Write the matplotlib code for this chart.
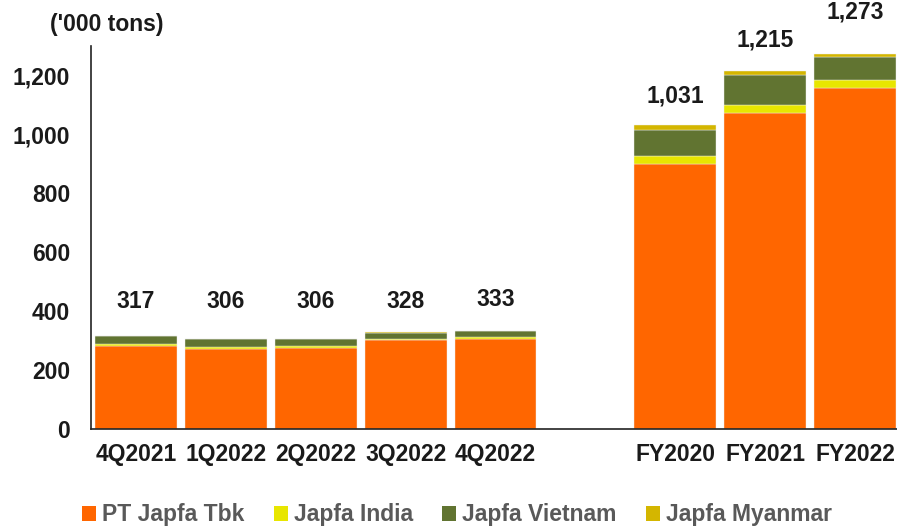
import numpy as np
import matplotlib
matplotlib.use("Agg")
import matplotlib.pyplot as plt

plt.rcParams["font.family"] = ["Liberation Sans", "DejaVu Sans"]
plt.rcParams["font.weight"] = "bold"

# === Data ===
periods = ["4Q2021", "1Q2022", "2Q2022", "3Q2022", "4Q2022", "FY2020", "FY2021", "FY2022"]
pt_japfa = [281, 273, 276, 302, 305, 901, 1074, 1159]
japfa_india = [7, 6, 5, 5, 8, 26, 26, 24]
japfa_vietnam = [28, 25, 23, 19, 19, 89, 103, 81]
japfa_myanmar = [1, 2, 2, 2, 1, 15, 12, 9]
totals = [317, 306, 306, 328, 333, 1031, 1215, 1273]

series = [
    ("PT Japfa Tbk", pt_japfa, "#FF6600"),
    ("Japfa India", japfa_india, "#E8E600"),
    ("Japfa Vietnam", japfa_vietnam, "#617431"),
    ("Japfa Myanmar", japfa_myanmar, "#D4B600"),
]

# gap between quarterly and yearly groups
xpos = np.array([0, 1, 2, 3, 4, 6, 7, 8])
label_offset = [34, 37, 37, 31, 31, 29, 31, 42]  # pixels above bar top

FS = 16.5

fig = plt.figure(figsize=(8.97, 5.28), dpi=100)
ax = fig.add_axes([91 / 897, 99 / 528, 809 / 897, 383 / 528])

bottom = np.zeros(len(periods))
for name, vals, col in series:
    ax.bar(xpos, vals, bottom=bottom, width=0.91, color=col, label=name,
           edgecolor="#f0f0f0", linewidth=0.3)
    bottom += np.array(vals)

for x, tot, off in zip(xpos, totals, label_offset):
    ax.annotate(f"{tot:,}", (x, tot), xytext=(0, off), textcoords="offset pixels",
                ha="center", va="center", fontsize=FS, fontweight="bold",
                color="#1a1a1a", annotation_clip=False)

ax.set_xlim(-0.5, 8.5)
ax.set_ylim(0, 1300)
ax.set_yticks(range(0, 1201, 200))
ax.set_yticklabels([f"{v:,}" for v in range(0, 1201, 200)])
ax.set_xticks(xpos)
ax.set_xticklabels(periods)
ax.tick_params(axis="both", length=0, labelsize=FS, colors="#1a1a1a")
ax.tick_params(axis="y", pad=15)
ax.tick_params(axis="x", pad=10)
for s in ["top", "right"]:
    ax.spines[s].set_visible(False)
for s in ["left", "bottom"]:
    ax.spines[s].set_color("#222222")
    ax.spines[s].set_linewidth(1.2)

fig.text(50 / 897, 1 - 25 / 528, "('000 tons)", fontsize=FS, fontweight="bold",
         color="#1a1a1a", va="center", ha="left")

handles, labels = ax.get_legend_handles_labels()
leg = fig.legend(handles, labels, loc="center", bbox_to_anchor=(457 / 897, 1 - 515 / 528),
                 ncol=4, frameon=False, handlelength=0.6, handleheight=0.6,
                 handletextpad=0.25, columnspacing=1.3, fontsize=FS)
for t in leg.get_texts():
    t.set_color("#595959")
    t.set_fontweight("bold")
for h in leg.legend_handles:
    h.set_edgecolor("none")

fig.savefig("out.png", dpi=100)
